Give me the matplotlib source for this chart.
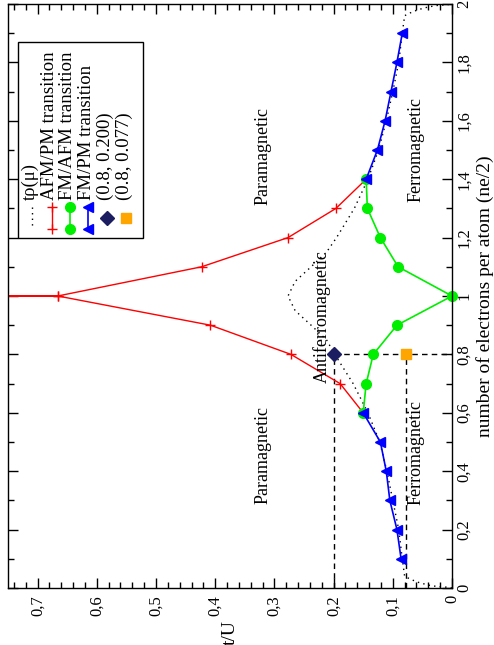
import matplotlib
matplotlib.use("Agg")
import matplotlib.pyplot as plt
from matplotlib.lines import Line2D
from matplotlib.patches import Rectangle

plt.rcParams['font.family'] = ['Liberation Serif', 'DejaVu Serif']
plt.rcParams['font.size'] = 13

# data: n = electrons per atom (ne/2), t = t/U
tp_n = [0, 0.003, 0.005, 0.01, 0.02, 0.03, 0.04, 0.1, 0.2, 0.3, 0.4, 0.5, 0.6, 0.7, 0.8, 0.85,
        0.9, 0.95, 1.0, 1.05, 1.1, 1.15, 1.2, 1.3, 1.4, 1.5, 1.6, 1.7, 1.8, 1.9, 1.96, 1.97,
        1.98, 1.99, 1.995, 1.997, 2.0]
tp_t = [0, 0.01, 0.025, 0.04, 0.058, 0.07, 0.08, 0.084, 0.09, 0.1, 0.11, 0.122, 0.142, 0.167,
        0.198, 0.212, 0.238, 0.265, 0.277, 0.265, 0.238, 0.212, 0.195, 0.165, 0.142, 0.124,
        0.111, 0.1, 0.09, 0.084, 0.08, 0.07, 0.058, 0.04, 0.025, 0.01, 0]

afm_n = [0.6, 0.7, 0.8, 0.9, 1.0, 1.0, 1.0, 1.1, 1.2, 1.3, 1.4]
afm_t = [0.150, 0.189, 0.272, 0.408, 0.666, 1.0, 0.666, 0.423, 0.277, 0.196, 0.145]

fm_afm_n = [0.6, 0.7, 0.8, 0.9, 1.0, 1.1, 1.2, 1.3, 1.4]
fm_afm_t = [0.150, 0.145, 0.133, 0.093, 0.0, 0.091, 0.121, 0.143, 0.145]

fm_pm_lo_n = [0.1, 0.2, 0.3, 0.4, 0.5, 0.6]
fm_pm_lo_t = [0.086, 0.093, 0.105, 0.111, 0.121, 0.150]
fm_pm_hi_n = [1.4, 1.5, 1.6, 1.7, 1.8, 1.9]
fm_pm_hi_t = [0.145, 0.126, 0.113, 0.103, 0.093, 0.084]

pt1 = (0.8, 0.200)
pt2 = (0.8, 0.077)

W, H = 494, 645
fig = plt.figure(figsize=(W / 100, H / 100), dpi=100)
ax = fig.add_axes([8 / W, 1 - 588 / H, 444 / W, 584 / H])


def fx(x):
    return x / W


def fy(y):
    return 1 - y / H


# dashed guide lines from the two points
ax.plot([pt1[1], pt1[1]], [0, pt1[0]], color='black', ls=(0, (4, 3)), lw=1)
ax.plot([pt1[1], 0], [pt1[0], pt1[0]], color='black', ls=(0, (4, 3)), lw=1)
ax.plot([pt2[1], pt2[1]], [0, pt2[0]], color='black', ls=(0, (4, 3)), lw=1)

ax.plot(tp_t, tp_n, color='black', ls=(0, (1, 3)), lw=1)
ax.plot(afm_t, afm_n, color='red', lw=1, marker='+', ms=7, mew=1)
ax.plot(fm_afm_t, fm_afm_n, color='#00ee00', lw=1.2, marker='o', ms=7, clip_on=False)
ax.plot(fm_pm_lo_t, fm_pm_lo_n, color='blue', lw=1.2, marker='<', ms=7)
ax.plot(fm_pm_hi_t, fm_pm_hi_n, color='blue', lw=1.2, marker='<', ms=7)
ax.plot([pt1[1]], [pt1[0]], color='#1c1c60', marker='D', ms=7, ls='none')
ax.plot([pt2[1]], [pt2[0]], color='#ffa500', marker='s', ms=7, ls='none')

ax.set_xlim(0.75, 0)
ax.set_ylim(0, 2)

ax.set_xticks([0.1 * i for i in range(8)])
ax.set_xticks([0.02 * i for i in range(38)], minor=True)
ax.set_yticks([0.2 * i for i in range(11)])
ax.set_yticks([0.1 * i for i in range(21)], minor=True)


def fmt(v):
    return ('%g' % round(v, 2)).replace('.', ',')


ax.set_xticklabels([fmt(0.1 * i) for i in range(8)])
ax.set_yticklabels([fmt(0.2 * i) for i in range(11)])

ax.tick_params(which='both', direction='in', top=True, bottom=True, left=True, right=True,
               labelleft=False, labelright=True, labelrotation=90, width=1, labelsize=12)
ax.tick_params(which='major', length=7)
ax.tick_params(which='minor', length=4)
ax.tick_params(axis='x', pad=5)
ax.tick_params(axis='y', pad=3)
for lbl in ax.get_yticklabels():
    lbl.set_va('center')
for s in ax.spines.values():
    s.set_linewidth(1)

# region labels
ax.text(0.319, 1.48, 'Paramagnetic', rotation=90, ha='center', va='center')
ax.text(0.319, 0.455, 'Paramagnetic', rotation=90, ha='center', va='center')
ax.text(0.219, 0.93, 'Antiferromagnetic', rotation=90, ha='center', va='center')
ax.text(0.061, 1.50, 'Ferromagnetic', rotation=90, ha='center', va='center')
ax.text(0.061, 0.465, 'Ferromagnetic', rotation=90, ha='center', va='center')

fig.text(fx(230), fy(633), 't/U', rotation=90, ha='center', va='center', fontsize=14)
fig.text(fx(485), fy(296), 'number of electrons per atom (ne/2)', rotation=90,
         ha='center', va='center', fontsize=14)

# hand-made rotated legend
fig.patches.append(Rectangle((fx(18), fy(238)), (143 - 18) / W, (238 - 42) / H,
                             transform=fig.transFigure, fill=True, facecolor='white',
                             edgecolor='black', lw=1, zorder=5))
labels = ['tρ(μ)', 'AFM/PM transition', 'FM/AFM transition', 'FM/PM transition',
          '(0.8, 0.200)', '(0.8, 0.077)']
cols = [32, 52, 70, 88, 107, 126]
for x, lab in zip(cols, labels):
    fig.text(fx(x - 2), fy(200), lab, rotation=90, ha='center', va='bottom', zorder=6,
             fontsize=13.5)

samples = [
    dict(color='black', ls=(0, (1, 3)), lw=1, marker=None),
    dict(color='red', lw=1, marker='+', ms=7, mew=1),
    dict(color='#00ee00', lw=1.2, marker='o', ms=7),
    dict(color='blue', lw=1.2, marker='<', ms=7),
]
for x, kw in zip(cols[:4], samples):
    fig.add_artist(Line2D([fx(x), fx(x)], [fy(207), fy(229)], transform=fig.transFigure,
                          zorder=6, **kw))
fig.add_artist(Line2D([fx(cols[4])], [fy(218)], transform=fig.transFigure, color='#1c1c60',
                      marker='D', ms=7, ls='none', zorder=6))
fig.add_artist(Line2D([fx(cols[5])], [fy(218)], transform=fig.transFigure, color='#ffa500',
                      marker='s', ms=7, ls='none', zorder=6))

fig.savefig('out.png', dpi=100)
